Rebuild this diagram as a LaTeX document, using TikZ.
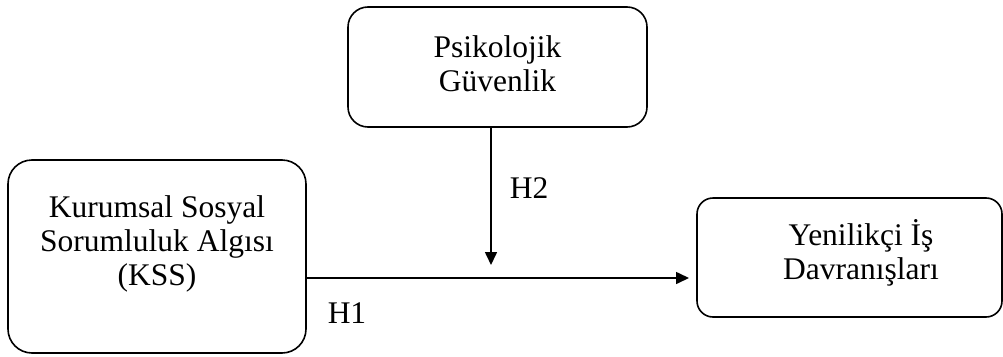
\documentclass[tikz,border=0pt]{standalone}
\usepackage{fontspec}
\setmainfont{Liberation Serif}
\usetikzlibrary{arrows.meta}
\begin{document}
\begin{tikzpicture}[x=1pt,y=-1pt,
  box/.style={draw,line width=1.6pt,rounded corners=#1,inner sep=0pt},
  txt/.style={align=center,inner sep=0pt,font=\fontsize{31.5}{34}\selectfont},
  lbl/.style={inner sep=0pt,anchor=base,font=\fontsize{31.5}{34}\selectfont},
  conn/.style={line width=1.6pt,-{Triangle[length=13pt,width=12pt]}}]
\useasboundingbox (0,0) rectangle (1003,356);
\node[box=24pt,minimum width=298pt,minimum height=193pt] (kss) at (157,256.5) {};
\node[box=20pt,minimum width=299pt,minimum height=120pt] (pg) at (497.5,67) {};
\node[box=16pt,minimum width=305pt,minimum height=119pt] (yid) at (849.5,257.5) {};
\node[txt,anchor=north] (kssT) at (157,195.5) {Kurumsal Sosyal\\Sorumluluk Algısı\\(KSS)};
\node[txt,anchor=north] (pgT) at (497.5,35.5) {Psikolojik\\Güvenlik};
\node[txt,anchor=north] (yidT) at (861,219) {Yenilikçi İş\\Davranışları};
\coordinate (vs) at (491,127);
\coordinate (ve) at (491,265);
\coordinate (hs) at (307,278);
\coordinate (he) at (689,278);
\draw[conn] (vs) -- (ve);
\draw[conn] (hs) -- (he);
\node[lbl] (h2) at (529,198) {H2};
\node[lbl] (h1) at (347,323) {H1};
\end{tikzpicture}
\end{document}
